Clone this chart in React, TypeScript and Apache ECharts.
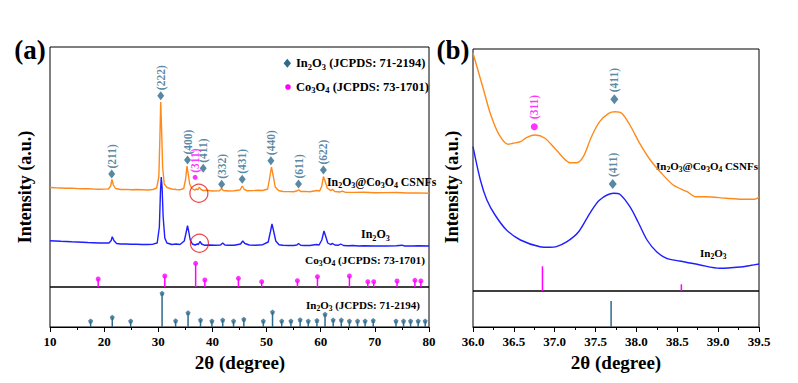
import React, { useEffect, useRef } from "react";
import * as echarts from "echarts";

const SERIF = '"Liberation Serif", "Times New Roman", serif';
const ORANGE = "#ff8a1c";
const BLUE = "#1e1eff";
const MAGENTA = "#ff00ff";
const TEAL = "#2f6a8c";
const RED = "#e8161b";

// ---------- Panel (a): 2θ 10-80 ----------
const coreShellA: [number, number][] = [
  [10, 99.5], [11, 99.2], [12, 99.0], [13, 98.8], [14, 98.9], [15, 98.5], [16, 98.3], [17, 98.4], [18, 98.0], [19, 97.8],
  [20, 97.9], [20.8, 98.0], [21.2, 101], [21.45, 107.5], [21.7, 102], [22.1, 98.5], [23, 97.5], [24, 97.6], [25, 97.2],
  [26, 97.5], [27, 97.3], [28, 97.0], [29, 97.5], [29.7, 99], [30.1, 110], [30.3, 150], [30.45, 185], [30.6, 160],
  [30.8, 120], [31.1, 103], [31.6, 99.5], [32.5, 98], [33.3, 97.5], [34.0, 97.2], [34.7, 98.5], [35.05, 108], [35.3, 121],
  [35.5, 114], [35.8, 103], [36.2, 98.5], [36.7, 97], [37.1, 98], [37.3, 97], [37.55, 99.8], [37.9, 97.5], [38.3, 96.5],
  [39, 96.7], [40, 96], [41.3, 96.3], [41.7, 98.5], [42.0, 96.5], [43, 96], [44, 96.3], [45.1, 97], [45.5, 101],
  [45.9, 97.5], [46.5, 96.2], [47.5, 96.4], [48.5, 96.8], [49.3, 96.5], [50.2, 98], [50.6, 110], [50.9, 120], [51.2, 112],
  [51.6, 100], [52.2, 96.5], [53, 95.5], [54, 95.4], [55, 95.3], [55.7, 96.2], [55.95, 97.2], [56.3, 95.5], [57, 95.6],
  [58, 95.3], [59.3, 96.5], [59.8, 96], [60.2, 101], [60.5, 110.5], [60.8, 106], [61.2, 99], [61.8, 96.5], [62.2, 97.5],
  [62.6, 95.5], [63.5, 95], [64, 95.8], [64.5, 94.8], [66, 94.6], [68, 94.8], [70, 94.3], [72, 94.4], [74, 94.5],
  [76, 94], [78, 94.1], [80, 93.7],
];

const pureA: [number, number][] = [
  [10, 46.3], [11, 46], [12, 45.7], [13, 45.5], [14, 45.2], [15, 45], [16, 44.8], [17, 44.5], [18, 44.3], [19, 44],
  [20, 44], [20.9, 44], [21.3, 46.5], [21.5, 50.3], [21.8, 46.5], [22.3, 43.5], [23, 43], [24, 43], [25, 42.8], [26, 42.8],
  [27, 42.5], [28, 42.5], [29, 42.8], [29.8, 44], [30.2, 60], [30.4, 95], [30.55, 110], [30.7, 100], [30.9, 70],
  [31.2, 49], [31.6, 44], [32.5, 42.5], [33.3, 43], [34, 42.5], [34.8, 46], [35.2, 56], [35.4, 61.3], [35.6, 56],
  [35.9, 47], [36.3, 43], [36.8, 42], [37.2, 43], [37.4, 42.5], [37.7, 45.5], [38, 43], [38.5, 41.8], [39.5, 42],
  [40.5, 41.8], [41.5, 42], [41.9, 44], [42.3, 42], [43, 41.8], [44, 41.8], [45.2, 43], [45.6, 46], [46, 43.5],
  [46.8, 42], [48, 41.8], [49.3, 42.3], [50.3, 45], [50.7, 55], [51.0, 63], [51.3, 56], [51.7, 46], [52.3, 42.3],
  [53, 41.8], [54, 41.5], [55, 41.5], [55.6, 42], [55.9, 43.5], [56.3, 41.8], [57, 41.5], [58, 41.5], [59.2, 42.5],
  [59.7, 42], [60.2, 47], [60.6, 56], [60.9, 51], [61.3, 44], [61.8, 42.5], [62.2, 43.5], [62.6, 42], [63.3, 41.8],
  [63.7, 43], [64.2, 41.5], [65, 41.2], [66, 41.5], [67, 41], [68, 41.2], [70, 41], [72, 41], [74, 41.2], [75, 41.8],
  [75.5, 41], [77, 41], [78, 41.2], [80, 41],
];

const in2o3PeaksA = [
  { name: "(211)", value: [21.4, 113] },
  { name: "(222)", value: [30.45, 191.3] },
  { name: "(400)", value: [35.4, 127] },
  { name: "(411)", value: [38.3, 118.7] },
  { name: "(332)", value: [41.7, 102.7] },
  { name: "(431)", value: [45.5, 107.7] },
  { name: "(440)", value: [50.8, 126.3] },
  { name: "(611)", value: [55.9, 103] },
  { name: "(622)", value: [60.5, 117] },
];
const co3o4PeaksA = [{ name: "(311)", value: [36.8, 109.7] }];
const circlesA: [number, number][] = [[37.5, 93.7], [37.6, 43.7]];

const co3o4RefA: [number, number][] = [
  [18.9, 8], [31.2, 11], [36.9, 23.7], [38.6, 7], [44.8, 8.7], [49.1, 5.3], [55.7, 6.3], [59.4, 10.3],
  [65.3, 11], [68.7, 5.3], [69.8, 5.3], [74.1, 6], [77.4, 6.7], [78.5, 6],
];
const in2o3RefA: [number, number][] = [
  [17.5, 6], [21.5, 9.7], [24.9, 6], [30.7, 33.7], [33.2, 6.3], [35.5, 14.3], [37.8, 7], [39.9, 6], [41.9, 7],
  [43.9, 6], [45.8, 7.7], [49.4, 6], [51.1, 15], [52.8, 6], [54.5, 6], [56.2, 7.3], [57.7, 6], [59.3, 6.5],
  [60.8, 12.7], [62.3, 7], [63.8, 7], [65.3, 6], [66.8, 6], [68.2, 6], [69.7, 6.5], [73.9, 6], [75.3, 6],
  [76.6, 6], [78.0, 6], [79.3, 6],
];

// ---------- Panel (b): 2θ 36-39.5 ----------
const coreShellB: [number, number][] = [
  [36.0, 238], [36.13, 201], [36.21, 178], [36.31, 157.7], [36.43, 146.7], [36.49, 147.7], [36.58, 149.3],
  [36.66, 153.7], [36.76, 156], [36.88, 152.7], [37.02, 141], [37.19, 128.3], [37.27, 128.3], [37.35, 134.3],
  [37.45, 154.3], [37.55, 169.3], [37.66, 177.7], [37.74, 179.3], [37.82, 177.7], [37.92, 166], [38.04, 147.7],
  [38.17, 131], [38.29, 119.3], [38.45, 106], [38.62, 99.3], [38.72, 94.3], [38.86, 94.3], [39.1, 92.7],
  [39.35, 91.7], [39.45, 91.7], [39.5, 94.3],
];
const pureB: [number, number][] = [
  [36.0, 144.3], [36.09, 111], [36.17, 91], [36.27, 76], [36.41, 61], [36.58, 51], [36.82, 44.3], [36.94, 43.7],
  [37.02, 44.3], [37.15, 49.3], [37.29, 59], [37.43, 77.7], [37.55, 91], [37.72, 97.7], [37.8, 96.5], [37.92, 84.3],
  [38.02, 69], [38.13, 51], [38.25, 39], [38.37, 32.7], [38.53, 30], [38.78, 26], [39.02, 22.7], [39.27, 24],
  [39.39, 25.5], [39.5, 27],
];
const in2o3PeaksB = [
  { name: "(411)", value: [37.73, 191.7] },
  { name: "(411)", value: [37.71, 107] },
];
const co3o4PeaksB = [{ name: "(311)", value: [36.75, 164.3] }];
const co3o4RefB: [number, number][] = [[36.85, 24.7], [38.55, 6.7]];
const in2o3RefB: [number, number][] = [[37.69, 26]];

const xTicksA = { min: 10, max: 80, interval: 10 };
const xTicksB = { min: 36, max: 39.5, interval: 0.5 };

function richStyles(size: number, color: string) {
  const s = Math.round(size * 0.68 * 10) / 10;
  return {
    m: { fontSize: size, fontFamily: SERIF, fontWeight: "bold", fill: color, lineHeight: size + 4 },
    s: { fontSize: s, fontFamily: SERIF, fontWeight: "bold", fill: color, lineHeight: s, verticalAlign: "bottom" },
  };
}
const IN2O3 = "{m|In}{s|2}{m|O}{s|3}";
const CO3O4 = "{m|Co}{s|3}{m|O}{s|4}";

function richText(x: number, y: number, text: string, size: number, color = "#000") {
  return {
    type: "text",
    x,
    y,
    silent: true,
    style: {
      text,
      rich: richStyles(size, color),
      fill: color,
      fontFamily: SERIF,
      fontWeight: "bold",
      fontSize: size,
      align: "left",
      verticalAlign: "middle",
    },
  };
}
function plainText(x: number, y: number, text: string, size: number, rotation = 0, align = "center") {
  return {
    type: "text",
    x,
    y,
    rotation,
    silent: true,
    style: {
      text,
      fill: "#000",
      font: `bold ${size}px ${SERIF}`,
      align,
      verticalAlign: "middle",
    },
  };
}

const hidden = {
  axisLine: { show: false },
  axisTick: { show: false },
  axisLabel: { show: false },
  splitLine: { show: false },
};

function shownX(grid: number, t: { min: number; max: number; interval: number }, digits: number) {
  return {
    type: "value",
    gridIndex: grid,
    min: t.min,
    max: t.max,
    interval: t.interval,
    axisLine: { show: true, lineStyle: { color: "#000", width: 1 } },
    axisTick: { show: true, inside: false, length: 5, lineStyle: { color: "#000", width: 1 } },
    minorTick: { show: true, splitNumber: 2, length: 3, lineStyle: { color: "#000", width: 1 } },
    axisLabel: {
      show: true,
      color: "#000",
      fontFamily: SERIF,
      fontWeight: "bold",
      fontSize: 13,
      margin: 8,
      formatter: (v: number) => v.toFixed(digits),
    },
    splitLine: { show: false },
    minorSplitLine: { show: false },
  };
}

function peakSeries(xi: number, data: any[], color: string, symbol: string, size: number | number[], dist: number) {
  return {
    type: "scatter",
    xAxisIndex: xi,
    yAxisIndex: xi,
    data,
    symbol,
    symbolSize: size,
    itemStyle: { color },
    z: 5,
    label: {
      show: true,
      formatter: "{b}",
      position: "top",
      rotate: 90,
      align: "left",
      verticalAlign: "middle",
      distance: dist,
      color,
      fontFamily: SERIF,
      fontWeight: "bold",
      fontSize: 11.5,
    },
  };
}

export default function App() {
  const ref = useRef<HTMLDivElement>(null);
  useEffect(() => {
    if (!ref.current) return;
    const chart = echarts.init(ref.current, undefined, { renderer: "svg" });
    const pin = "path://M5,0 L10,4 L8,10 L2,10 L0,4 Z";
    chart.setOption({
      animation: false,
      backgroundColor: "#fff",
      grid: [
        { left: 50, top: 47, width: 379, height: 240, show: true, borderColor: "#000", borderWidth: 1 },
        { left: 50, top: 287, width: 379, height: 40, show: true, borderColor: "#000", borderWidth: 1 },
        { left: 473, top: 49, width: 286, height: 242, show: true, borderColor: "#000", borderWidth: 1 },
        { left: 473, top: 291, width: 286, height: 36, show: true, borderColor: "#000", borderWidth: 1 },
      ],
      xAxis: [
        { type: "value", gridIndex: 0, min: xTicksA.min, max: xTicksA.max, ...hidden },
        shownX(1, xTicksA, 0),
        { type: "value", gridIndex: 2, min: xTicksB.min, max: xTicksB.max, ...hidden },
        shownX(3, xTicksB, 1),
      ],
      yAxis: [
        { type: "value", gridIndex: 0, min: 0, max: 240, show: false },
        { type: "value", gridIndex: 1, min: 0, max: 40, show: false },
        { type: "value", gridIndex: 2, min: 0, max: 242, show: false },
        { type: "value", gridIndex: 3, min: 0, max: 36, show: false },
      ],
      series: [
        { type: "line", xAxisIndex: 0, yAxisIndex: 0, data: coreShellA, showSymbol: false, lineStyle: { color: ORANGE, width: 1.4 } },
        { type: "line", xAxisIndex: 0, yAxisIndex: 0, data: pureA, showSymbol: false, lineStyle: { color: BLUE, width: 1.4 } },
        { type: "bar", xAxisIndex: 0, yAxisIndex: 0, data: co3o4RefA, barWidth: 1.5, itemStyle: { color: MAGENTA } },
        { type: "scatter", xAxisIndex: 0, yAxisIndex: 0, data: co3o4RefA, symbol: "circle", symbolSize: 5, itemStyle: { color: MAGENTA } },
        { type: "bar", xAxisIndex: 1, yAxisIndex: 1, data: in2o3RefA, barWidth: 1.5, itemStyle: { color: TEAL } },
        { type: "scatter", xAxisIndex: 1, yAxisIndex: 1, data: in2o3RefA, symbol: pin, symbolSize: 5, itemStyle: { color: TEAL } },
        peakSeries(0, in2o3PeaksA, TEAL, "diamond", [7, 9], 1),
        peakSeries(0, co3o4PeaksA, MAGENTA, "circle", 5, 2),
        {
          type: "scatter", xAxisIndex: 0, yAxisIndex: 0, data: circlesA, symbol: "circle", symbolSize: 18,
          itemStyle: { color: "rgba(0,0,0,0)", borderColor: RED, borderWidth: 1.2 }, z: 6,
        },
        { type: "line", xAxisIndex: 2, yAxisIndex: 2, data: coreShellB, showSymbol: false, smooth: 0.3, lineStyle: { color: ORANGE, width: 1.4 } },
        { type: "line", xAxisIndex: 2, yAxisIndex: 2, data: pureB, showSymbol: false, smooth: 0.3, lineStyle: { color: BLUE, width: 1.4 } },
        { type: "bar", xAxisIndex: 2, yAxisIndex: 2, data: co3o4RefB, barWidth: 1.5, itemStyle: { color: MAGENTA } },
        { type: "bar", xAxisIndex: 3, yAxisIndex: 3, data: in2o3RefB, barWidth: 1.5, itemStyle: { color: TEAL } },
        peakSeries(2, in2o3PeaksB, TEAL, "diamond", [8, 10], 2),
        peakSeries(2, co3o4PeaksB, MAGENTA, "circle", 7, 4),
      ],
      graphic: [
        plainText(30, 50, "(a)", 27),
        plainText(453, 50, "(b)", 27),
        plainText(25, 187, "Intensity (a.u.)", 18, Math.PI / 2),
        plainText(452, 187, "Intensity (a.u.)", 18, Math.PI / 2),
        plainText(240, 362, "2θ (degree)", 19),
        plainText(616, 362, "2θ (degree)", 19),
        {
          type: "polygon", silent: true,
          shape: { points: [[287.3, 58.8], [291, 63.3], [287.3, 67.8], [283.6, 63.3]] },
          style: { fill: TEAL },
        },
        { type: "circle", silent: true, shape: { cx: 288, cy: 87, r: 2.8 }, style: { fill: MAGENTA } },
        richText(296, 63, IN2O3 + "{m| (JCPDS: 71-2194)}", 12.5),
        richText(296, 86.5, CO3O4 + "{m| (JCPDS: 73-1701)}", 12.5),
        richText(327, 181.5, IN2O3 + "{m|@}" + CO3O4 + "{m| CSNFs}", 11.8),
        richText(361, 234, IN2O3, 12),
        richText(305, 260, CO3O4 + "{m| (JCPDS: 73-1701)}", 11.3),
        richText(306, 305, IN2O3 + "{m| (JCPDS: 71-2194)}", 11),
        richText(656, 165.5, IN2O3 + "{m|@}" + CO3O4 + "{m| CSNFs}", 11),
        richText(700, 252.5, IN2O3, 11),
      ],
    });
    return () => chart.dispose();
  }, []);
  return <div ref={ref} style={{ position: "fixed", left: 0, top: 0, width: 798, height: 383 }} />;
}
